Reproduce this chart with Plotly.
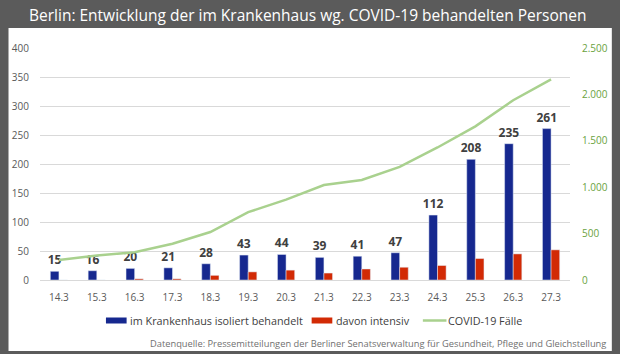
import plotly.graph_objects as go

categories = ["14.3", "15.3", "16.3", "17.3", "18.3", "19.3", "20.3",
              "21.3", "22.3", "23.3", "24.3", "25.3", "26.3", "27.3"]
hospital = [15, 16, 20, 21, 28, 43, 44, 39, 41, 47, 112, 208, 235, 261]
intensive = [0, 0, 2, 2, 8, 14, 17, 12, 19, 22, 25, 37, 45, 52]
cases = [216, 263, 300, 391, 517, 731, 866, 1024, 1077, 1219, 1428, 1656, 1937, 2161]
left_ticks = [0, 50, 100, 150, 200, 250, 300, 350, 400]
right_ticks = [0, 500, 1000, 1500, 2000, 2500]

names = ["im Krankenhaus isoliert behandelt", "davon intensiv", "COVID-19 Fälle"]
title = "Berlin: Entwicklung der im Krankenhaus wg. COVID-19 behandelten Personen"
source = "Datenquelle: Pressemitteilungen der Berliner Senatsverwaltung für Gesundheit, Pflege und Gleichstellung"

BLUE = "#16288f"
RED = "#d22a05"
GREEN = "#a9d18e"
GREEN_TXT = "#6aa23e"
FONT = "Open Sans"

W, H = 620, 354
L, R, T, B = 35, 573.5, 48, 280


def px(x):
    return (x - L) / (R - L)


def py(y):
    return (B - y) / (B - T)


fig = go.Figure()
fig.add_trace(go.Bar(x=categories, y=hospital, name=names[0], marker_color=BLUE,
                     text=[str(v) for v in hospital], textposition="outside",
                     constraintext="none",
                     textfont=dict(family=FONT, size=12, color="#404040", weight="bold"),
                     cliponaxis=False, showlegend=False))
fig.add_trace(go.Bar(x=categories, y=intensive, name=names[1], marker_color=RED,
                     showlegend=False))
fig.add_trace(go.Scatter(x=categories, y=cases, name=names[2], mode="lines",
                         line=dict(color=GREEN, width=2.5), yaxis="y2",
                         showlegend=False))

shapes = [
    dict(type="rect", xref="paper", yref="paper", x0=px(3), x1=px(616), y0=py(28), y1=py(351),
         fillcolor="white", line=dict(width=0), layer="below"),
    # legend swatches
    dict(type="rect", xref="paper", yref="paper", x0=px(102), x1=px(123), y0=py(317.5), y1=py(323.5),
         fillcolor=BLUE, line=dict(width=0)),
    dict(type="rect", xref="paper", yref="paper", x0=px(311), x1=px(332), y0=py(317.5), y1=py(323.5),
         fillcolor=RED, line=dict(width=0)),
    dict(type="line", xref="paper", yref="paper", x0=px(424), x1=px(448), y0=py(320.5), y1=py(320.5),
         line=dict(color=GREEN, width=2.5)),
]

annotations = [
    dict(text=title, xref="paper", yref="paper", x=px(307.5), y=py(14.5), xanchor="center",
         yanchor="middle", showarrow=False, font=dict(family=FONT, size=15.5, color="white")),
    dict(text=names[0], xref="paper", yref="paper", x=px(124), y=py(320.5), xanchor="left",
         yanchor="middle", showarrow=False, font=dict(family=FONT, size=10.8, color="#404040")),
    dict(text=names[1], xref="paper", yref="paper", x=px(334), y=py(320.5), xanchor="left",
         yanchor="middle", showarrow=False, font=dict(family=FONT, size=10.8, color="#404040")),
    dict(text=names[2], xref="paper", yref="paper", x=px(448), y=py(320.5), xanchor="left",
         yanchor="middle", showarrow=False, font=dict(family=FONT, size=10.8, color="#404040")),
    dict(text=source, xref="paper", yref="paper", x=px(612), y=py(343), xanchor="right",
         yanchor="middle", showarrow=False, font=dict(family=FONT, size=9.3, color="#707070")),
]

fig.update_layout(
    width=W, height=H,
    margin=dict(l=L, r=W - R, t=T, b=H - B, pad=0),
    paper_bgcolor="#5b5b5b", plot_bgcolor="white",
    separators=",.",
    barmode="group", bargap=0.545, bargroupgap=0,
    font=dict(family=FONT, size=10, color="#595959"),
    shapes=shapes, annotations=annotations,
    xaxis=dict(type="category", range=[-0.5, 13.5], showgrid=False, showline=True,
               linecolor="#d9d9d9", linewidth=1, ticks="", ticklabelstandoff=8,
               tickfont=dict(family=FONT, size=10, color="#595959")),
    yaxis=dict(range=[0, 400], tickvals=left_ticks, showgrid=True, gridcolor="#d9d9d9",
               gridwidth=1, zeroline=False, showline=False, ticks="", ticklabelstandoff=10,
               tickfont=dict(family=FONT, size=10, color="#595959")),
    yaxis2=dict(range=[0, 2500], tickvals=right_ticks, tickformat=",d", overlaying="y",
                side="right", showgrid=False, zeroline=False, showline=False, ticks="",
                ticklabelstandoff=11, tickfont=dict(family=FONT, size=10, color=GREEN_TXT)),
)

fig.write_html("out.html")
